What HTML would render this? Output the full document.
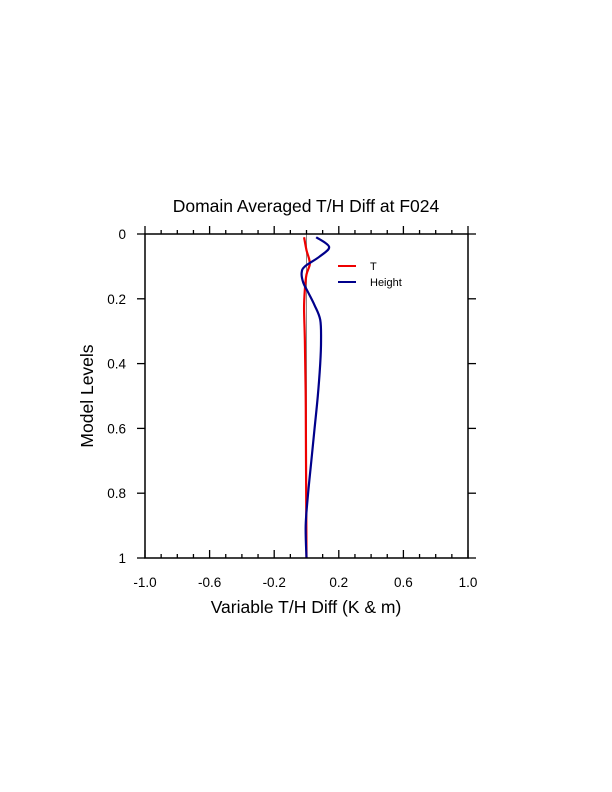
<!DOCTYPE html>
<html><head><meta charset="utf-8"><style>
body{margin:0;background:#fff;}
svg{display:block;font-family:"Liberation Sans",sans-serif;}
</style></head><body>
<svg id="chart" width="612" height="792" viewBox="0 0 612 792">
<text x="306" y="212" text-anchor="middle" font-size="17.5">Domain Averaged T/H Diff at F024</text>
<text x="306" y="613" text-anchor="middle" font-size="17.5">Variable T/H Diff (K &amp; m)</text>
<text transform="translate(93,396) rotate(-90)" text-anchor="middle" font-size="17.5">Model Levels</text>
<g id="ticks"></g>
<line id="zl" stroke="#888" stroke-width="1"/>
<g id="series"></g>
<rect x="145" y="234" width="323" height="324" fill="none" stroke="#000" stroke-width="1.5"/>
<g>
<line x1="338" y1="266" x2="356" y2="266" stroke="#e00" stroke-width="2"/>
<text x="370" y="270" font-size="11">T</text>
<line x1="338" y1="282" x2="356" y2="282" stroke="#00008b" stroke-width="2"/>
<text x="370" y="286" font-size="11">Height</text>
</g>
</svg>
<script>
const xTicks=[-1.0,-0.6,-0.2,0.2,0.6,1.0];
const yTicks=[0,0.2,0.4,0.6,0.8,1];
const levelsH=[0.01,0.04,0.07,0.10,0.12,0.15,0.18,0.22,0.265,0.33,0.40,0.5,0.6,0.7,0.8,0.9,1.0];
const valuesH=[0.06,0.14,0.08,-0.01,-0.03,-0.02,0.01,0.05,0.085,0.09,0.085,0.07,0.05,0.03,0.01,-0.005,0.0];
const levelsT=[0.01,0.05,0.075,0.095,0.125,0.17,0.23,0.33,0.5,0.7,1.0];
const valuesT=[-0.015,0.0,0.015,0.02,0.0,-0.01,-0.015,-0.01,-0.005,-0.003,0.0];
const X0=145,X1=468,Y0=234,Y1=558;
const xs=v=>X0+(v+1)/2*(X1-X0);
const ys=v=>Y0+v*(Y1-Y0);
const NS="http://www.w3.org/2000/svg";
const tg=document.getElementById('ticks');
function ln(x1,y1,x2,y2,name){const l=document.createElementNS(NS,'line');
l.setAttribute('x1',x1);l.setAttribute('y1',y1);l.setAttribute('x2',x2);l.setAttribute('y2',y2);
l.setAttribute('stroke','#000');l.setAttribute('stroke-width','1.3');


tg.appendChild(l);}
function tx(x,y,s,anchor,name){const t=document.createElementNS(NS,'text');
t.setAttribute('x',x);t.setAttribute('y',y);t.setAttribute('text-anchor',anchor);t.setAttribute('font-size','13.5');t.textContent=s;


tg.appendChild(t);}
for(let i=-10;i<=10;i++){const v=i/10,x=xs(v);const major=(i+10)%4===0;
 const L=major?8:4;
 ln(x,Y1,x,Y1-L,'x-tick');ln(x,Y0,x,Y0-L,'x-tick-top');}
xTicks.forEach(v=>tx(xs(v),587,v.toFixed(1),'middle','x-tick-label'));
yTicks.forEach(v=>{const y=ys(v);ln(X0,y,X0-8,y,'y-tick');ln(X1,y,X1+8,y,'y-tick-right');});
yTicks.forEach(v=>tx(126,ys(v)+5,String(v),'end','y-tick-label'));
const zl=document.getElementById('zl');
zl.setAttribute('x1',xs(0));zl.setAttribute('x2',xs(0));zl.setAttribute('y1',Y0);zl.setAttribute('y2',Y1);
const sg=document.getElementById('series');
function curve(vals,levs,color,name){
 const pts=vals.map((v,i)=>[xs(v),ys(levs[i])]);
 let d='M'+pts[0][0]+','+pts[0][1];
 for(let i=1;i<pts.length;i++){const p0=pts[i-2]||pts[i-1],p1=pts[i-1],p2=pts[i],p3=pts[i+1]||p2;
  const c1=[p1[0]+(p2[0]-p0[0])/6,p1[1]+(p2[1]-p0[1])/6],c2=[p2[0]-(p3[0]-p1[0])/6,p2[1]-(p3[1]-p1[1])/6];
  d+=' C'+c1+' '+c2+' '+p2;}
 const p=document.createElementNS(NS,'path');p.setAttribute('d',d);p.setAttribute('fill','none');
 p.setAttribute('stroke',color);p.setAttribute('stroke-width','2.2');
 
 
 sg.appendChild(p);}
curve(valuesT,levelsT,'#e00','t-line');
curve(valuesH,levelsH,'#00008b','height-line');
</script>
</body></html>
